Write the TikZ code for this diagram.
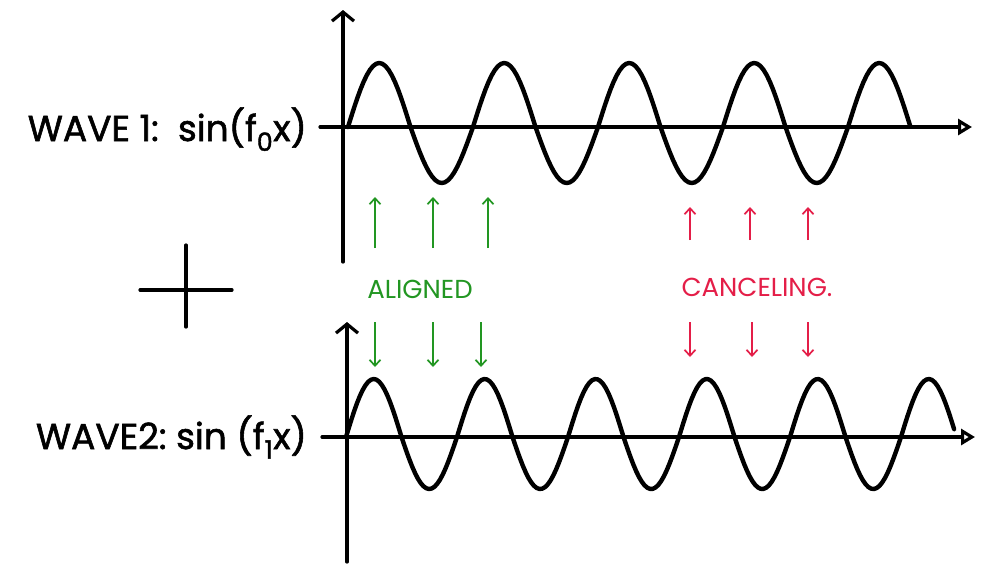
\documentclass[tikz,border=0pt]{standalone}
\usepackage{fontspec}
\setmainfont{Poppins}
\newfontfamily\handfont{Poppins}[FakeBold=1.6]
\usetikzlibrary{arrows.meta, positioning}
\definecolor{okgreen}{RGB}{34, 150, 34}
\definecolor{badred}{RGB}{228, 30, 72}

\begin{document}
\begin{tikzpicture}[x=1pt, y=-1pt,
    axis/.style={line width=3.2pt, line cap=round},
    xaxis/.style={axis, -{Triangle[open, length=14pt, width=16pt]}},
    yaxis/.style={axis, -{Straight Barb[length=9pt, width=22pt]}},
    wave/.style={line width=4.4pt, line join=round, line cap=round},
    lbl/.style={font=\fontsize{36}{42}\handfont, inner sep=0pt},
    note/.style={font=\fontsize{26}{30}\selectfont, inner sep=0pt},
    hint/.style={line width=1.7pt, -{Straight Barb[length=6pt, width=11pt]}}
  ]
  \useasboundingbox (0,0) rectangle (994,566);
  % wave 1
  \draw[yaxis] (343,262) -- (343,10);
  \draw[xaxis] (320,127) -- (972,127);
  \draw[wave] plot[domain=0:4.5, samples=181]
    ({348+125*\x}, {127-((sin(360*\x)>0) ? 64 : 56)*sin(360*\x)});
  \node[lbl, anchor=base east] (wave1) at (307,141) {WAVE 1:\ \ sin(f\textsubscript{0}x)};
  % wave 2
  \draw[yaxis] (347,562) -- (347,322);
  \draw[xaxis] (322,437) -- (975,437);
  \draw[wave] plot[domain=0:5.48, samples=221]
    ({346+111*\x}, {437-((sin(360*\x)>0) ? 58 : 52)*sin(360*\x)});
  \node[lbl, anchor=base east] (wave2) at (307,449) {WAVE2:\ sin (f\textsubscript{1}x)};
  % plus
  \draw[line width=3.2pt, line cap=round] (140,290) -- (232,290) (186,245) -- (186,327);
  % aligned
  \node[note, okgreen] (aligned) at (420,289) {ALIGNED};
  \foreach \x in {375,433,488} \draw[hint, okgreen] (\x,248) -- (\x,197);
  \foreach \x in {375,433,481} \draw[hint, okgreen] (\x,322) -- (\x,367);
  % canceling
  \node[note, badred] (canceling) at (757,287) {CANCELING.};
  \foreach \x in {690,750,808} \draw[hint, badred] (\x,240) -- (\x,207);
  \foreach \x in {690,752,808} \draw[hint, badred] (\x,322) -- (\x,357);
\end{tikzpicture}
\end{document}
